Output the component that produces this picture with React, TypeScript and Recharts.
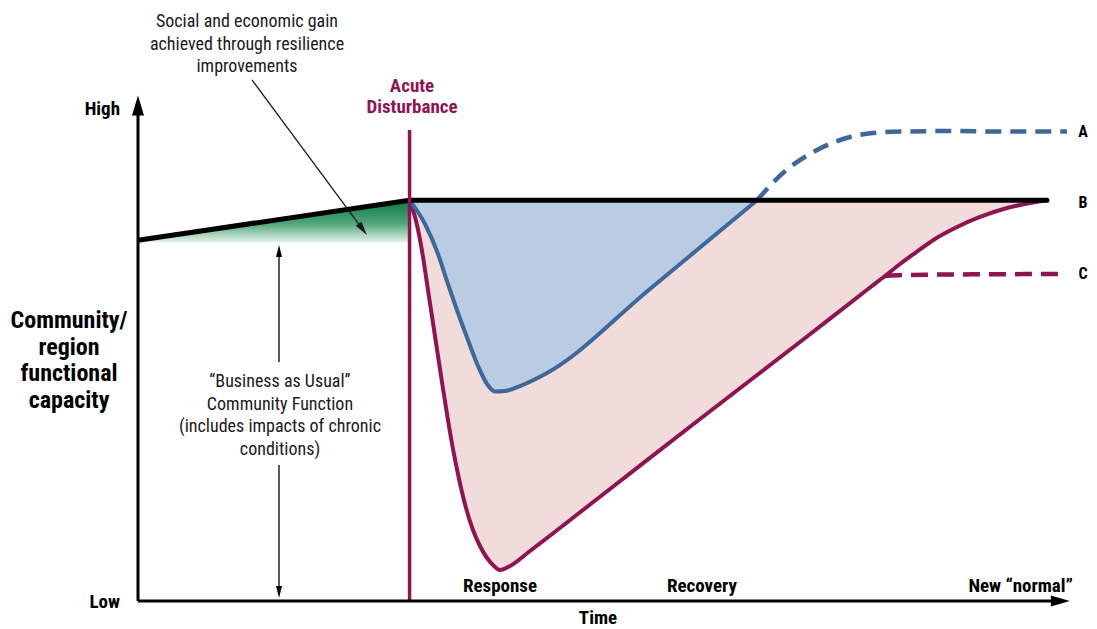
import React from 'react';
import { ComposedChart, Area, Line, XAxis, YAxis, ReferenceLine } from 'recharts';

// ---- data (time units 0..100, capacity units 0..100) ----
const T_BASE = [0, 29.2];
const CAP_BASE = [72, 80];
const GAIN_FLOOR = 71.6;
const T_B = [29.2, 97.74];
const CAP_B = [80, 80];
const T_BLUE = [29.2, 30.86, 32.26, 33.33, 34.41, 35.48, 36.56, 37.53, 38.39, 39.46, 41.08, 43.98, 55.05, 66.56];
const CAP_BLUE = [80, 75.25, 69.26, 63.27, 57.49, 52.1, 46.91, 43.31, 41.82, 41.92, 42.91, 45.51, 62.28, 80];
const T_A = [66.56, 69.35, 73.01, 76.56, 79.03, 81.94, 87.31, 92.69, 99.89];
const CAP_A = [80, 85.43, 90.02, 92.61, 93.41, 93.7, 93.8, 93.7, 93.7];
const T_MAG = [29.2, 30.0, 30.65, 31.18, 31.72, 32.26, 32.8, 33.33, 33.87, 34.52, 35.27, 36.02, 36.77, 37.53, 38.28, 38.92, 40.0, 42.15, 49.68, 60.43, 71.18, 78.71, 80.32, 81.94, 83.55, 85.7, 87.85, 90.54, 93.44, 95.91, 97.74];
const CAP_MAG = [80, 75.05, 68.66, 62.08, 55.49, 48.9, 42.32, 36.13, 30.34, 24.35, 18.56, 14.17, 10.98, 8.58, 6.99, 6.19, 6.99, 9.98, 20.81, 36.33, 51.7, 62.57, 64.87, 67.27, 69.46, 72.26, 74.45, 76.65, 78.44, 79.44, 80];
const T_C = [80.32, 82.47, 87.31, 99.89];
const CAP_C = [64.87, 65.07, 65.17, 65.27];

const DISTURBANCE_T = 29.2;
const DISTURBANCE_TOP = 94;
const BAU_T = 15.16;
const BAU_TOP = 71.06;
const BAU_GAP = [47.7, 27.15];
const BAU_BOTTOM = 0.6;
const GAIN_ARROW = [{ x: 12.26, y: 104 }, { x: 24.62, y: 73.05 }];

const Y_TITLE = ['Community/', 'region', 'functional', 'capacity'];
const TOP_NOTE = ['Social and economic gain', 'achieved through resilience', 'improvements'];
const LOSS_NOTE = ['Social and economic loss for', 'all communities following an', 'acute disturbance'];
const ADD_NOTE = ['Additional losses for', 'less resilient', 'communities'];
const BAU_NOTE = ['\u201cBusiness as Usual\u201d', 'Community Function', '(includes impacts of chronic', 'conditions)'];
const PHASES = ['Response', 'Recovery', 'New \u201cnormal\u201d'];
const SCENARIOS = ['A', 'B', 'C'];

// ---- build one table ----
type Row = { [k: string]: any };
const rowsMap = new Map<number, Row>();
const put = (ts: number[], vs: number[], key: string, rangeKey?: string, floor?: number) => {
  ts.forEach((t, i) => {
    const r = rowsMap.get(t) || { t };
    r[key] = vs[i];
    if (rangeKey) r[rangeKey] = [floor, vs[i]];
    rowsMap.set(t, r);
  });
};
put(T_BASE, CAP_BASE, 'base', 'gain', GAIN_FLOOR);
put(T_B, CAP_B, 'b');
put(T_BLUE, CAP_BLUE, 'blue', 'blueFill', CAP_B[0]);
put(T_A, CAP_A, 'a');
put(T_MAG, CAP_MAG, 'mag', 'magFill', CAP_B[0]);
put(T_C, CAP_C, 'c');
const DATA = Array.from(rowsMap.values()).sort((p, q) => p.t - q.t);

const FONT = "'Liberation Sans Narrow','Arial Narrow','Roboto Condensed','DejaVu Sans Condensed','Liberation Sans',sans-serif";
const MAG = '#8c1552';
const BLUE = '#3f6899';

const arrowShape = (color: string, sw: number, headLen: number, headW: number) => (p: any) => {
  const { x1, y1, x2, y2 } = p;
  const dx = x2 - x1, dy = y2 - y1;
  const L = Math.sqrt(dx * dx + dy * dy) || 1;
  const ux = dx / L, uy = dy / L;
  const bx = x2 - ux * headLen, by = y2 - uy * headLen;
  const nx = -uy * headW / 2, ny = ux * headW / 2;
  return (
    <g>
      <line x1={x1} y1={y1} x2={x2 - ux * headLen * 0.6} y2={y2 - uy * headLen * 0.6} stroke={color} strokeWidth={sw} />
      <polygon points={`${x2},${y2} ${bx + nx},${by + ny} ${bx - nx},${by - ny}`} fill={color} />
    </g>
  );
};

const Lines = ({ x, y, lines, lh, size = 18, weight = 'normal', fill = '#1a1a1a', anchor = 'middle' }: any) => (
  <g>
    {lines.map((l: string, i: number) => (
      <text key={i} x={x} y={y + i * lh} fontFamily={FONT} fontSize={size} fontWeight={weight} fill={fill} textAnchor={anchor}>
        {l}
      </text>
    ))}
  </g>
);

export default function App() {
  return (
    <div style={{ position: 'absolute', left: 0, top: 0, background: '#fff' }}>
      <ComposedChart width={1097} height={629} data={DATA} margin={{ top: 100, right: 29, bottom: 28, left: 138 }}>
        <defs>
          <linearGradient id="gainGrad" x1="0" y1="0" x2="0" y2="1">
            <stop offset="0%" stopColor="#0b7844" />
            <stop offset="55%" stopColor="#4fa679" />
            <stop offset="100%" stopColor="#e4f2ea" />
          </linearGradient>
        </defs>
        <XAxis type="number" dataKey="t" domain={[0, 100]} hide />
        <YAxis type="number" domain={[0, 100]} hide />

        <Area type="monotone" dataKey="magFill" stroke="none" fill="#f2dbdb" fillOpacity={1} connectNulls isAnimationActive={false} dot={false} activeDot={false} />
        <Area type="monotone" dataKey="blueFill" stroke="none" fill="#b9cce4" fillOpacity={1} connectNulls isAnimationActive={false} dot={false} activeDot={false} />
        <Area type="linear" dataKey="gain" stroke="none" fill="url(#gainGrad)" fillOpacity={1} connectNulls isAnimationActive={false} dot={false} activeDot={false} />

        <Line type="monotone" dataKey="mag" stroke={MAG} strokeWidth={4} dot={false} activeDot={false} connectNulls isAnimationActive={false} />
        <Line type="monotone" dataKey="c" stroke={MAG} strokeWidth={4.5} strokeDasharray="17 9" dot={false} activeDot={false} connectNulls isAnimationActive={false} />
        <Line type="monotone" dataKey="blue" stroke={BLUE} strokeWidth={4} dot={false} activeDot={false} connectNulls isAnimationActive={false} />
        <Line type="monotone" dataKey="a" stroke={BLUE} strokeWidth={4.5} strokeDasharray="16 9" dot={false} activeDot={false} connectNulls isAnimationActive={false} />
        <Line type="linear" dataKey="base" stroke="#000" strokeWidth={5} dot={false} activeDot={false} connectNulls isAnimationActive={false} />
        <Line type="linear" dataKey="b" stroke="#000" strokeWidth={5} strokeLinecap="round" dot={false} activeDot={false} connectNulls isAnimationActive={false} />

        <ReferenceLine segment={[{ x: DISTURBANCE_T, y: 0 }, { x: DISTURBANCE_T, y: DISTURBANCE_TOP }]} stroke={MAG} strokeWidth={3.5} ifOverflow="visible" />

        <ReferenceLine segment={[{ x: 0, y: 0 }, { x: 0, y: 100.9 }]} ifOverflow="visible" shape={arrowShape('#000', 3, 20, 12)} />
        <ReferenceLine segment={[{ x: 0, y: 0 }, { x: 100.2, y: 0 }]} ifOverflow="visible" shape={arrowShape('#000', 3, 19, 11)} />
        <ReferenceLine segment={[{ x: BAU_T, y: BAU_GAP[0] }, { x: BAU_T, y: BAU_TOP }]} ifOverflow="visible" shape={arrowShape('#000', 1.3, 12, 6)} />
        <ReferenceLine segment={[{ x: BAU_T, y: BAU_GAP[1] }, { x: BAU_T, y: BAU_BOTTOM }]} ifOverflow="visible" shape={arrowShape('#000', 1.3, 12, 6)} />
        <ReferenceLine segment={GAIN_ARROW} ifOverflow="visible" shape={arrowShape('#1a1a1a', 1.3, 14, 7)} />

        <g>
          <Lines x={247} y={27} lh={22.5} lines={TOP_NOTE} />
          <Lines x={412} y={92} lh={21} lines={['Acute', 'Disturbance']} size={19} weight="bold" fill={MAG} />
          <Lines x={120} y={115} lh={0} lines={['High']} size={19} weight="bold" anchor="end" fill="#000" />
          <Lines x={120} y={608} lh={0} lines={['Low']} size={19} weight="bold" anchor="end" fill="#000" />
          <Lines x={69} y={328} lh={26.5} lines={Y_TITLE} size={24} weight="bold" fill="#000" />
          <Lines x={598} y={624} lh={0} lines={['Time']} size={19} weight="bold" fill="#000" />
          <Lines x={500} y={592} lh={0} lines={[PHASES[0]]} size={19} weight="bold" fill="#000" />
          <Lines x={702} y={592} lh={0} lines={[PHASES[1]]} size={19} weight="bold" fill="#000" />
          <Lines x={1073} y={592} lh={0} lines={[PHASES[2]]} size={19} weight="bold" fill="#000" anchor="end" />
          <Lines x={1083} y={137} lh={0} lines={[SCENARIOS[0]]} size={16} weight="bold" fill="#000" />
          <Lines x={1083} y={208} lh={0} lines={[SCENARIOS[1]]} size={16} weight="bold" fill="#000" />
          <Lines x={1083} y={279} lh={0} lines={[SCENARIOS[2]]} size={16} weight="bold" fill="#000" />
          <Lines x={549} y={233} lh={22} lines={LOSS_NOTE} />
          <Lines x={825} y={232} lh={22} lines={ADD_NOTE} />
          <Lines x={280} y={387} lh={22.7} lines={BAU_NOTE} />
        </g>
      </ComposedChart>
    </div>
  );
}
